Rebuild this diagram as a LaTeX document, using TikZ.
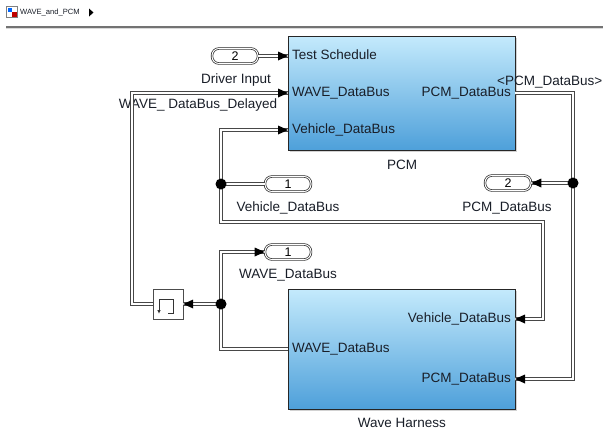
\documentclass[tikz,border=0pt]{standalone}
\usepackage{fontspec}
\setmainfont{Liberation Sans}
\usetikzlibrary{shadows}
\definecolor{blktop}{RGB}{196,234,252}
\definecolor{blkmid}{RGB}{138,200,240}
\definecolor{blkbot}{RGB}{78,160,218}
\definecolor{txt}{RGB}{25,30,40}
% arrow heads: pointing right (R) or left (L) into a named coordinate
\newcommand\tipR[1]{\fill[black] (#1) -- ++(-10,-4.5) -- ++(0,9) -- cycle;}
\newcommand\tipL[1]{\fill[black] (#1) -- ++(10,-4.5) -- ++(0,9) -- cycle;}
\begin{document}
\begin{tikzpicture}[x=1pt,y=-1pt,
  lbl/.style={inner sep=0pt, font=\fontsize{13.5}{15}\selectfont, text=txt},
  blk/.style={draw=black!85, line width=0.8pt, top color=blktop, middle color=blkmid, bottom color=blkbot,
    drop shadow={shadow xshift=1.5pt, shadow yshift=-1.5pt, opacity=0.35}, minimum width=227pt, inner sep=0pt},
  portbox/.style={draw=black!85, double=white, double distance=1pt, line width=0.7pt, fill=white,
    rounded corners=7pt, minimum height=15pt, minimum width=46pt, inner sep=0pt,
    font=\fontsize{12.5}{13}\selectfont},
  bus/.style={draw=black!72, line width=4pt, line join=miter,
    postaction={draw=white, line width=2pt}},
  jn/.style={circle, fill=black, inner sep=0pt, minimum size=11pt}
]
\useasboundingbox (0,0) rectangle (603,434);
\fill[white] (0,0) rectangle (603,434);

% header
\draw[black!55, line width=1.2pt] (6,27) -- (603,27);
\draw[black!15, line width=1pt] (6,28.6) -- (603,28.6);
\node[draw=black!50, fill=white, minimum size=11pt, inner sep=0pt] (icon) at (12,12) {};
\fill[blue!60!cyan] (7.5,8) rectangle (12,12);
\fill[red!75!black] (12,12) rectangle (16.5,16.5);
\node[anchor=west, inner sep=0pt, font=\fontsize{7.6}{9}\selectfont, text=txt] (title) at (20,12.5) {WAVE\_and\_PCM};
\fill[black] (89,8.5) -- (93.5,12.5) -- (89,16.5) -- cycle;

% blocks
\node[blk, minimum height=114pt] (pcm) at (401.5,93) {};
\node[blk, minimum height=120pt] (wh) at (401.5,349) {};
\node[lbl] (pcmname) at (402,165) {PCM};
\node[lbl] (whname) at (402,423) {Wave Harness};

% PCM port labels
\node[lbl, anchor=west] (l1) at (292,55) {Test Schedule};
\node[lbl, anchor=west] (l2) at (292,93) {WAVE\_DataBus};
\node[lbl, anchor=west] (l3) at (292,130) {Vehicle\_DataBus};
\node[lbl, anchor=east] (l4) at (511,93) {PCM\_DataBus};
% Wave harness port labels
\node[lbl, anchor=east] (l5) at (511,319) {Vehicle\_DataBus};
\node[lbl, anchor=east] (l6) at (511,379) {PCM\_DataBus};
\node[lbl, anchor=west] (l7) at (292,349) {WAVE\_DataBus};

% ports
\node[portbox] (drv) at (235,56) {2};
\node[lbl] (drvl) at (236,80) {Driver Input};
\node[portbox] (vin) at (288,184) {1};
\node[lbl] (vinl) at (288,208) {Vehicle\_DataBus};
\node[portbox] (wout) at (288,252) {1};
\node[lbl] (woutl) at (288,275) {WAVE\_DataBus};
\node[portbox] (pout) at (508,183) {2};
\node[lbl] (poutl) at (507,208) {PCM\_DataBus};
\node[lbl] (dlyl) at (198,105) {WAVE\_ DataBus\_Delayed};

% delay block
\node[draw=black!70, fill=white, minimum size=30pt, inner sep=0pt,
  drop shadow={shadow xshift=1.2pt, shadow yshift=-1.2pt, opacity=0.3}] (dly) at (168,304) {};
\draw[black!80, line width=0.6pt] (159,310) -- (159,299.5) -- (173,299.5) -- (173,313) -- (168,313);
\fill[black!80] (157.3,310) -- (160.7,310) -- (159,313.5) -- cycle;

% port coordinates
\coordinate (pTS) at (288,56);
\coordinate (pWD) at (288,93);
\coordinate (pVD) at (288,130);
\coordinate (pPO) at (515,93);
\coordinate (wVD) at (515,319);
\coordinate (wPD) at (515,379);
\coordinate (wWD) at (288,349);
\coordinate (k1) at (132,93);
\coordinate (k2) at (221,222);
\coordinate (k3) at (543,319);
\coordinate (k4) at (573,379);
\coordinate (k5) at (221,252);

% junctions
\coordinate (j1) at (221,184);
\coordinate (j2) at (573,183);
\coordinate (j3) at (221,304);

% Driver input
\draw[bus] (drv.east) -- (pTS);
% delayed wave bus
\draw[bus] (dly.west) -| (k1) -- (pWD);
% vehicle bus
\draw[bus] (vin.west) -- (j1);
\draw[bus] (j1) |- (pVD);
\draw[bus] (j1) -- (k2) -| (k3) -- (wVD);
% PCM bus
\draw[bus] (pPO) -| (k4) -- (wPD);
\draw[bus] (j2) -- (pout.east);
% wave bus
\draw[bus] (wWD) -| (k5) -- (wout.west);
\draw[bus] (j3) -- (dly.east);

% arrow heads
\tipR{pTS}
\tipR{pWD}
\tipR{pVD}
\tipL{wVD}
\tipL{wPD}
\tipL{pout.east}
\tipR{wout.west}
\tipL{dly.east}

% junction dots
\fill[black] (j1) circle (5.5pt);
\fill[black] (j2) circle (5.5pt);
\fill[black] (j3) circle (5.5pt);

\node[lbl, anchor=west] (pcmsig) at (497,82) {<PCM\_DataBus>};
\end{tikzpicture}
\end{document}
